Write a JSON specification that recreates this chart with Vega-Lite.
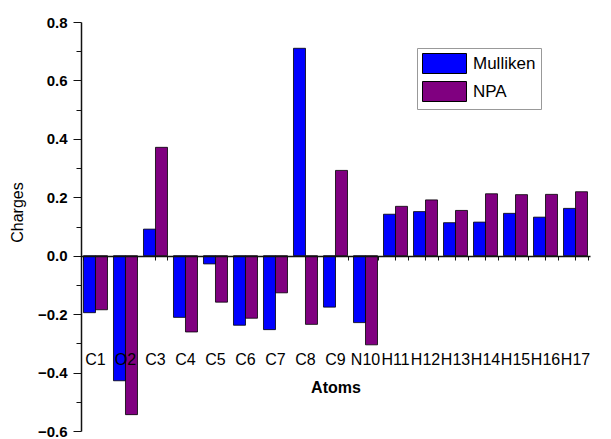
{
  "$schema": "https://vega.github.io/schema/vega-lite/v6.json",
  "width": 509,
  "height": 409,
  "autosize": {"type": "none"},
  "padding": {"left": 81, "top": 22, "right": 21, "bottom": 8},
  "background": "white",
  "config": {
    "view": {"stroke": null},
    "font": "Liberation Sans",
    "axis": {"grid": false, "domainColor": "#111", "tickColor": "#111", "labelColor": "#000", "titleColor": "#000", "labelFont": "Liberation Sans", "titleFont": "Liberation Sans"}
  },
  "data": {
    "values": [
      {"atom": "C1", "method": "Mulliken", "charge": -0.195},
      {"atom": "O2", "method": "Mulliken", "charge": -0.428},
      {"atom": "C3", "method": "Mulliken", "charge": 0.091},
      {"atom": "C4", "method": "Mulliken", "charge": -0.211},
      {"atom": "C5", "method": "Mulliken", "charge": -0.028},
      {"atom": "C6", "method": "Mulliken", "charge": -0.238},
      {"atom": "C7", "method": "Mulliken", "charge": -0.253},
      {"atom": "C8", "method": "Mulliken", "charge": 0.71},
      {"atom": "C9", "method": "Mulliken", "charge": -0.176},
      {"atom": "N10", "method": "Mulliken", "charge": -0.229},
      {"atom": "H11", "method": "Mulliken", "charge": 0.142},
      {"atom": "H12", "method": "Mulliken", "charge": 0.151},
      {"atom": "H13", "method": "Mulliken", "charge": 0.113},
      {"atom": "H14", "method": "Mulliken", "charge": 0.115},
      {"atom": "H15", "method": "Mulliken", "charge": 0.145},
      {"atom": "H16", "method": "Mulliken", "charge": 0.132},
      {"atom": "H17", "method": "Mulliken", "charge": 0.162},
      {"atom": "C1", "method": "NPA", "charge": -0.185},
      {"atom": "O2", "method": "NPA", "charge": -0.544},
      {"atom": "C3", "method": "NPA", "charge": 0.371},
      {"atom": "C4", "method": "NPA", "charge": -0.261},
      {"atom": "C5", "method": "NPA", "charge": -0.159},
      {"atom": "C6", "method": "NPA", "charge": -0.214},
      {"atom": "C7", "method": "NPA", "charge": -0.127},
      {"atom": "C8", "method": "NPA", "charge": -0.235},
      {"atom": "C9", "method": "NPA", "charge": 0.292},
      {"atom": "N10", "method": "NPA", "charge": -0.305},
      {"atom": "H11", "method": "NPA", "charge": 0.169},
      {"atom": "H12", "method": "NPA", "charge": 0.191},
      {"atom": "H13", "method": "NPA", "charge": 0.155},
      {"atom": "H14", "method": "NPA", "charge": 0.212},
      {"atom": "H15", "method": "NPA", "charge": 0.209},
      {"atom": "H16", "method": "NPA", "charge": 0.210},
      {"atom": "H17", "method": "NPA", "charge": 0.219}
    ]
  },
  "layer": [
    {
      "mark": {"type": "bar", "stroke": "#000", "strokeWidth": 0.8},
      "encoding": {
        "x": {
          "field": "atom", "type": "nominal", "sort": null,
          "scale": {"paddingInner": 0.2, "paddingOuter": 0.083},
          "axis": {
            "orient": "bottom", "offset": -175, "zindex": 1, "labelAngle": 0,
            "domainWidth": 1.5, "tickSize": 4, "tickWidth": 1,
            "labelPadding": 91, "labelFontSize": 16, "labelFontWeight": "normal",
            "title": "Atoms", "titleFontSize": 16, "titleFontWeight": "bold", "titlePadding": 12
          }
        },
        "xOffset": {"field": "method", "type": "nominal", "scale": {"paddingInner": 0, "paddingOuter": 0}},
        "y": {
          "field": "charge", "type": "quantitative",
          "scale": {"domain": [-0.6, 0.8], "nice": false, "zero": false},
          "axis": {
            "orient": "left", "values": [-0.6, -0.4, -0.2, 0, 0.2, 0.4, 0.6, 0.8], "format": ".1f",
            "domainWidth": 1.5, "tickSize": 8, "tickWidth": 1, "labelPadding": 6,
            "labelFontSize": 15, "labelFontWeight": "bold",
            "title": "Charges", "titleFontSize": 16, "titleFontWeight": "normal", "titlePadding": 12, "titleY": 190
          }
        },
        "color": {
          "field": "method", "type": "nominal",
          "scale": {"domain": ["Mulliken", "NPA"], "range": ["#0000ff", "#800080"]},
          "legend": {
            "title": null, "orient": "none", "legendX": 336, "legendY": 26,
            "padding": 5, "strokeColor": "#999", "fillColor": "white",
            "symbolType": "M-1,-1H3.4V1H-1Z", "symbolSize": 400,
            "symbolStrokeColor": "#000", "symbolStrokeWidth": 1, "symbolOpacity": 1,
            "labelFontSize": 17, "labelFont": "Liberation Sans", "labelColor": "#000", "labelOffset": 30,
            "rowPadding": 3
          }
        }
      }
    },
    {
      "mark": {"type": "point", "opacity": 0},
      "encoding": {
        "x": {
          "field": "atom", "type": "nominal", "sort": null,
          "axis": {"orient": "bottom", "offset": -175, "zindex": 1, "tickBand": "extent", "labels": false, "domain": false, "tickSize": 4, "tickWidth": 1, "tickColor": "#111", "title": null}
        },
        "y": {
          "field": "charge", "type": "quantitative",
          "axis": {"orient": "left", "values": [-0.5, -0.3, -0.1, 0.1, 0.3, 0.5, 0.7], "labels": false, "domain": false, "tickSize": 5, "tickWidth": 1, "tickColor": "#111", "title": null}
        }
      }
    }
  ],
  "resolve": {"axis": {"x": "independent", "y": "independent"}}
}
